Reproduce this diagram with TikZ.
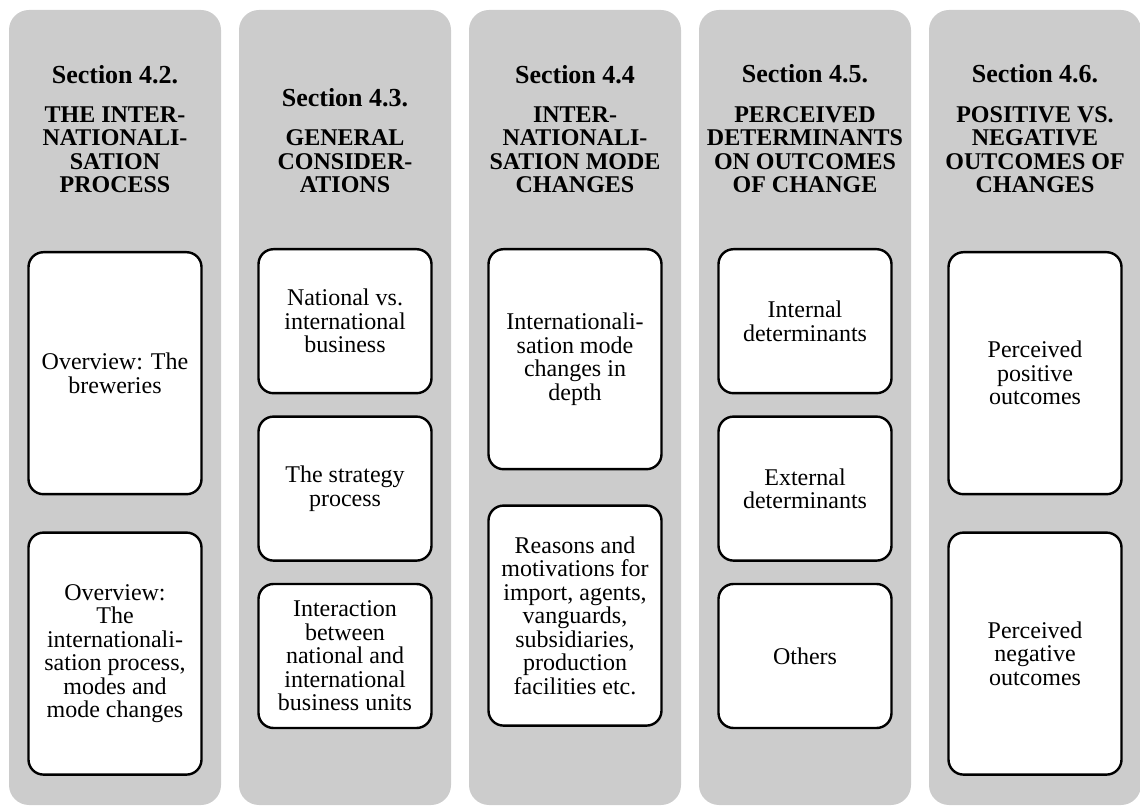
\documentclass[tikz,border=0pt]{standalone}
\usepackage{fontspec}
\setmainfont{Liberation Serif}
\usetikzlibrary{positioning}
\definecolor{panelgray}{RGB}{204,204,204}
\tikzset{
    panel/.style={fill=panelgray, draw=none, rounded corners=20pt},
    section/.style={font=\fontsize{26}{28}\selectfont\bfseries, inner sep=0pt},
    heading/.style={font=\fontsize{24}{23.3}\selectfont\bfseries, align=center, inner sep=0pt, anchor=south},
    topic/.style={draw, line width=2.4pt, fill=white, rounded corners=15pt,
        minimum width=173pt, align=center, inner sep=0pt, anchor=north,
        font=\fontsize{24}{23.5}\selectfont},
    tall/.style={topic, minimum height=242pt},
    mid/.style={topic, minimum height=220pt},
    short/.style={topic, minimum height=144pt},
}

\begin{document}
\begin{tikzpicture}[x=1pt, y=1pt]
\useasboundingbox (0,0) rectangle (1140,806);

% grey panels with their headings
\foreach \sec/\title [count=\i from 0] in {
    {4.2.}/{THE INTER-\\NATIONALI-\\SATION\\PROCESS},
    {4.3.}/{GENERAL\\CONSIDER-\\ATIONS},
    {4.4}/{INTER-\\NATIONALI-\\SATION MODE\\CHANGES},
    {4.5.}/{PERCEIVED\\DETERMINANTS\\ON OUTCOMES\\OF CHANGE},
    {4.6.}/{POSITIVE VS.\\NEGATIVE\\OUTCOMES OF\\CHANGES}}{
    \fill[panel] (9+230*\i, 1) rectangle ++(212, 795);
    \node[heading] (title\i) at (115+230*\i, 613) {\title};
    \node[section, above=23pt of title\i] (sec\i) {Section \sec};
}

% column 1
\node[tall] (brew) at (115, 555) {Overview: The\\breweries};
\node[tall, below=36pt of brew] (modes) {Overview:\\The\\internationali-\\sation process,\\modes and\\mode changes};

% column 2
\node[short] (natint) at (345, 558) {National vs.\\international\\business};
\node[short, below=21pt of natint] (strat) {The strategy\\process};
\node[short, below=21pt of strat] (inter) {Interaction\\between\\national and\\international\\business units};

% column 3
\node[mid] (depth) at (575, 558) {Internationali-\\sation mode\\changes in\\depth};
\node[mid, below=34pt of depth] (reasons) {Reasons and\\motivations for\\import, agents,\\vanguards,\\subsidiaries,\\production\\facilities etc.};

% column 4
\node[short] (intdet) at (805, 558) {Internal\\determinants};
\node[short, below=21pt of intdet] (extdet) {External\\determinants};
\node[short, below=21pt of extdet] (others) {Others};

% column 5
\node[tall] (pos) at (1035, 555) {Perceived\\positive\\outcomes};
\node[tall, below=36pt of pos] (neg) {Perceived\\negative\\outcomes};

\end{tikzpicture}
\end{document}
